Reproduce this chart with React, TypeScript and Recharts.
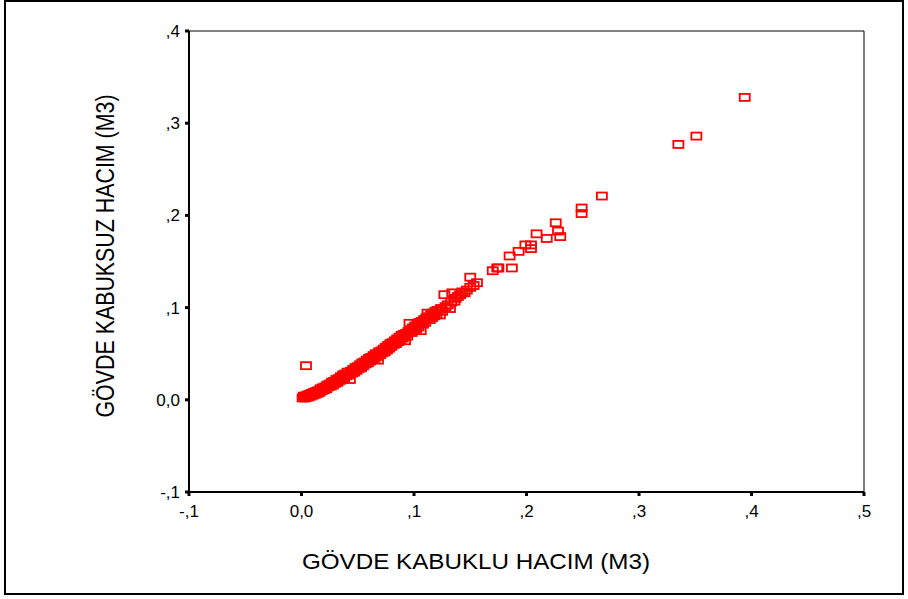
import React from "react";
import {
  ScatterChart,
  Scatter,
  XAxis,
  YAxis,
  ReferenceLine,
  Label,
} from "recharts";

// Gövde kabuklu hacim (m3) – x values
const kabukluHacim: number[] = [
  0.001, 0.002, 0.003, 0.004, 0.005, 0.006, 0.007, 0.008, 0.009, 0.010,
  0.011, 0.012, 0.013, 0.014, 0.015, 0.016, 0.017, 0.018, 0.019, 0.020,
  0.021, 0.022, 0.023, 0.024, 0.025, 0.026, 0.027, 0.028, 0.029, 0.030,
  0.031, 0.032, 0.033, 0.034, 0.035, 0.036, 0.037, 0.038, 0.039, 0.040,
  0.041, 0.042, 0.043, 0.044, 0.045, 0.046, 0.047, 0.048, 0.049, 0.050,
  0.051, 0.052, 0.053, 0.054, 0.055, 0.056, 0.057, 0.058, 0.059, 0.060,
  0.061, 0.062, 0.063, 0.064, 0.065, 0.066, 0.067, 0.068, 0.069, 0.070,
  0.071, 0.072, 0.073, 0.074, 0.075, 0.076, 0.077, 0.078, 0.079, 0.080,
  0.081, 0.082, 0.083, 0.084, 0.085, 0.086, 0.087, 0.088, 0.089, 0.090,
  0.091, 0.092, 0.093, 0.094, 0.095, 0.096, 0.097, 0.098, 0.099, 0.100,
  0.101, 0.102, 0.103, 0.104, 0.105, 0.106, 0.107, 0.108, 0.109, 0.110,
  0.111, 0.112, 0.113, 0.114, 0.115, 0.116, 0.117, 0.118, 0.119, 0.120,
  0.121, 0.123, 0.124, 0.125, 0.127, 0.128, 0.130, 0.132, 0.133, 0.134,
  0.136, 0.137, 0.139, 0.141, 0.143, 0.145, 0.147, 0.150, 0.150, 0.153,
  0.156, 0.170, 0.174, 0.175, 0.185, 0.187, 0.193, 0.199, 0.204, 0.204,
  0.209, 0.218, 0.226, 0.228, 0.230, 0.249, 0.249, 0.267, 0.335, 0.351,
  0.394, 0.004,
];

// Gövde kabuksuz hacim (m3) – y values
const kabuksuzHacim: number[] = [
  0.002, 0.004, 0.002, 0.003, 0.005, 0.003, 0.006, 0.004, 0.007, 0.005,
  0.008, 0.006, 0.009, 0.007, 0.010, 0.008, 0.012, 0.010, 0.013, 0.011,
  0.014, 0.012, 0.016, 0.014, 0.017, 0.015, 0.019, 0.016, 0.020, 0.018,
  0.022, 0.019, 0.023, 0.021, 0.025, 0.022, 0.027, 0.024, 0.028, 0.026,
  0.030, 0.027, 0.022, 0.031, 0.029, 0.033, 0.030, 0.035, 0.032, 0.036,
  0.034, 0.038, 0.035, 0.040, 0.037, 0.041, 0.039, 0.043, 0.040, 0.045,
  0.042, 0.046, 0.044, 0.048, 0.045, 0.050, 0.047, 0.043, 0.052, 0.049,
  0.053, 0.051, 0.055, 0.052, 0.057, 0.054, 0.059, 0.056, 0.061, 0.058,
  0.062, 0.060, 0.064, 0.061, 0.066, 0.063, 0.068, 0.065, 0.070, 0.067,
  0.071, 0.064, 0.072, 0.069, 0.074, 0.083, 0.076, 0.073, 0.078, 0.075,
  0.080, 0.077, 0.082, 0.079, 0.084, 0.075, 0.085, 0.082, 0.087, 0.084,
  0.089, 0.094, 0.090, 0.087, 0.092, 0.089, 0.094, 0.091, 0.096, 0.093,
  0.097, 0.092, 0.099, 0.096, 0.114, 0.101, 0.103, 0.099, 0.106, 0.116,
  0.107, 0.110, 0.112, 0.114, 0.117, 0.116, 0.119, 0.133, 0.122, 0.124,
  0.127, 0.140, 0.143, 0.143, 0.156, 0.143, 0.161, 0.168, 0.168, 0.164,
  0.180, 0.175, 0.192, 0.183, 0.177, 0.208, 0.202, 0.221, 0.277, 0.286,
  0.328, 0.037,
];

const xTicks = [-0.1, 0, 0.1, 0.2, 0.3, 0.4, 0.5];
const yTicks = [-0.1, 0, 0.1, 0.2, 0.3, 0.4];

const xTitle = "GÖVDE KABUKLU HACIM (M3)";
const yTitle = "GÖVDE KABUKSUZ HACIM (M3)";

const points = kabukluHacim.map((x, i) => ({ x, y: kabuksuzHacim[i] }));

// SPSS-style decimal labels: "0,0", ",1", "-,1"
const fmt = (v: number) => {
  if (Math.abs(v) < 1e-9) return "0,0";
  const s = Math.abs(v).toFixed(1).replace(/^0/, "").replace(".", ",");
  return v < 0 ? "-" + s : s;
};

const FONT = "'Liberation Sans', Arial, sans-serif";

const Marker = (props: any) => {
  const { cx, cy } = props;
  if (cx == null || cy == null) return null;
  return (
    <rect
      x={cx - 5}
      y={cy - 3.5}
      width={10}
      height={7}
      fill="none"
      stroke="#ff0000"
      strokeWidth={1.8}
    />
  );
};

export default function App() {
  return (
    <div
      style={{
        position: "absolute",
        left: 0,
        top: 0,
        width: 908,
        height: 599,
        background: "#fff",
      }}
    >
      <ScatterChart
        width={908}
        height={599}
        margin={{ top: 31, right: 44, bottom: 0, left: 0 }}
      >
        <XAxis
          type="number"
          dataKey="x"
          domain={[-0.1, 0.5]}
          ticks={xTicks}
          tickFormatter={fmt}
          height={107}
          axisLine={{ stroke: "#000", strokeWidth: 2 }}
          tickLine={{ stroke: "#000", strokeWidth: 3 }}
          tickSize={4}
          tickMargin={9}
          tick={{ fill: "#000", fontSize: 17, fontFamily: FONT }}
          interval={0}
        >
          <Label
            content={() => (
              <text
                x={476}
                y={569}
                textAnchor="middle"
                fontFamily={FONT}
                fontSize={22}
                fill="#000"
                textLength={348}
                lengthAdjust="spacingAndGlyphs"
              >
                {xTitle}
              </text>
            )}
          />
        </XAxis>
        <YAxis
          type="number"
          dataKey="y"
          domain={[-0.1, 0.4]}
          ticks={yTicks}
          tickFormatter={fmt}
          width={189}
          axisLine={{ stroke: "#000", strokeWidth: 2 }}
          tickLine={{ stroke: "#000", strokeWidth: 3 }}
          tickSize={4}
          tickMargin={5}
          tick={{ fill: "#000", fontSize: 17, fontFamily: FONT }}
          interval={0}
        >
          <Label
            content={() => (
              <text
                x={114}
                y={256}
                transform="rotate(-90 114 256)"
                textAnchor="middle"
                fontFamily={FONT}
                fontSize={26}
                fill="#000"
                textLength={323}
                lengthAdjust="spacingAndGlyphs"
              >
                {yTitle}
              </text>
            )}
          />
        </YAxis>
        <ReferenceLine y={0.4} stroke="#000" strokeWidth={1} />
        <ReferenceLine x={0.5} stroke="#000" strokeWidth={1} />
        <Scatter
          data={points}
          shape={<Marker />}
          isAnimationActive={false}
        />
      </ScatterChart>
      <div
        style={{
          position: "absolute",
          left: 4,
          top: 0,
          width: 900,
          height: 595,
          border: "2px solid #000",
          boxSizing: "border-box",
          pointerEvents: "none",
        }}
      />
    </div>
  );
}
